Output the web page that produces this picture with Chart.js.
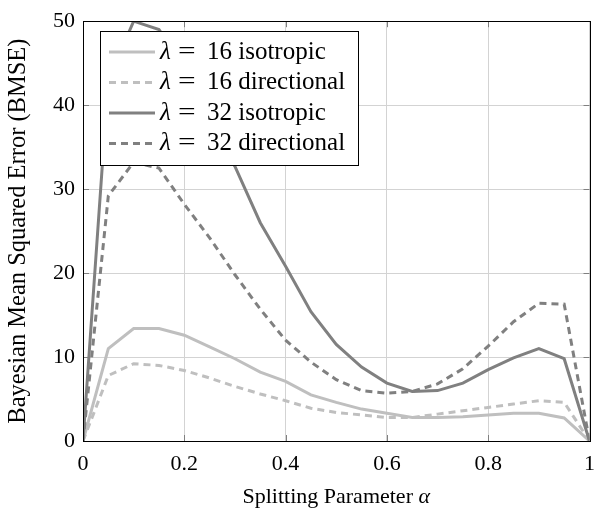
<!DOCTYPE html>
<html>
<head>
<meta charset="utf-8">
<script src="https://cdn.jsdelivr.net/npm/chart.js@4.4.0/dist/chart.umd.min.js"></script>
<style>
  html, body { margin: 0; padding: 0; background: #fff; }
</style>
</head>
<body>
<canvas id="chart" width="605" height="510"></canvas>
<script>
const alpha = [0, 0.05, 0.1, 0.15, 0.2, 0.25, 0.3, 0.35, 0.4, 0.45, 0.5,
               0.55, 0.6, 0.65, 0.7, 0.75, 0.8, 0.85, 0.9, 0.95, 1];

const lam16Iso = [0, 11.0, 13.4, 13.4, 12.6, 11.2, 9.8, 8.2, 7.1, 5.5, 4.6,
                  3.8, 3.3, 2.8, 2.8, 2.9, 3.1, 3.3, 3.3, 2.75, 0];
const lam16Dir = [0, 7.8, 9.2, 9.0, 8.4, 7.5, 6.5, 5.6, 4.8, 3.9, 3.4,
                  3.1, 2.8, 2.8, 3.2, 3.6, 4.0, 4.4, 4.8, 4.6, 0];
const lam32Iso = [0, 43, 50, 49, 44.5, 38.5, 32.7, 26, 20.8, 15.4, 11.5,
                  8.8, 6.9, 5.9, 6.0, 6.9, 8.5, 9.9, 11.0, 9.8, 0];
const lam32Dir = [0, 29.2, 33.2, 32.5, 28.2, 24.2, 19.8, 15.7, 12.0, 9.4, 7.3,
                  6.0, 5.7, 5.9, 6.8, 8.6, 11.3, 14.2, 16.4, 16.3, 0];

const lambdas = [16, 16, 32, 32];
const kinds = ['isotropic', 'directional', 'isotropic', 'directional'];

const xTicks = [0, 0.2, 0.4, 0.6, 0.8, 1];
const yTicks = [0, 10, 20, 30, 40, 50];

const SERIF = '"Liberation Serif", "DejaVu Serif", serif';
const LIGHT = '#bfbfbf';
const DARK = '#808080';

function toPoints(ys) {
  return alpha.map((a, i) => ({ x: a, y: ys[i] }));
}

function series(i, ys, color, dashed, order) {
  return {
    label: 'λ = ' + lambdas[i] + ' ' + kinds[i],
    data: toPoints(ys),
    borderColor: color,
    borderWidth: 3,
    borderDash: dashed ? [7, 5] : [],
    pointRadius: 0,
    tension: 0,
    order: order
  };
}

// frame and inward tick marks, drawn over the curves
const framePlugin = {
  id: 'frame',
  afterDatasetsDraw(chart) {
    const { ctx, chartArea: a, scales } = chart;
    ctx.save();
    ctx.strokeStyle = '#808080';
    ctx.lineWidth = 1;
    const len = 6;
    ctx.beginPath();
    xTicks.forEach(v => {
      const px = Math.round(scales.x.getPixelForValue(v)) + 0.5;
      ctx.moveTo(px, a.bottom); ctx.lineTo(px, a.bottom - len);
      ctx.moveTo(px, a.top); ctx.lineTo(px, a.top + len);
    });
    yTicks.forEach(v => {
      const py = Math.round(scales.y.getPixelForValue(v)) + 0.5;
      ctx.moveTo(a.left, py); ctx.lineTo(a.left + len, py);
      ctx.moveTo(a.right, py); ctx.lineTo(a.right - len, py);
    });
    ctx.stroke();
    ctx.strokeStyle = '#000';
    ctx.lineWidth = 1;
    ctx.strokeRect(Math.round(a.left) + 0.5, Math.round(a.top) + 0.5,
                   Math.round(a.right - a.left), Math.round(a.bottom - a.top));

    // x axis title with italic alpha
    const t1 = 'Splitting Parameter ';
    ctx.fillStyle = '#000';
    ctx.textBaseline = 'middle';
    ctx.font = '22px ' + SERIF;
    const w1 = ctx.measureText(t1).width;
    ctx.font = 'italic 22px ' + SERIF;
    const w2 = ctx.measureText('α').width;
    const cx = (a.left + a.right) / 2;
    let x0 = cx - (w1 + w2) / 2;
    ctx.font = '22px ' + SERIF;
    ctx.textAlign = 'left';
    ctx.fillText(t1, x0, 497);
    ctx.font = 'italic 22px ' + SERIF;
    ctx.fillText('α', x0 + w1, 497);
    ctx.restore();
  }
};

// boxed legend in the upper left of the plot
const legendPlugin = {
  id: 'boxLegend',
  afterDraw(chart) {
    const { ctx } = chart;
    const bx = 100, by = 31, bw = 258, bh = 134;
    ctx.save();
    ctx.fillStyle = '#fff';
    ctx.fillRect(bx, by, bw, bh);
    ctx.strokeStyle = '#000';
    ctx.lineWidth = 1;
    ctx.strokeRect(bx + 0.5, by + 0.5, bw, bh);
    ctx.textBaseline = 'middle';
    ctx.textAlign = 'left';
    chart.data.datasets.forEach((ds, row) => {
      const y = by + 21 + row * 30.5;
      ctx.strokeStyle = ds.borderColor;
      ctx.lineWidth = ds.borderWidth;
      ctx.setLineDash(ds.borderDash);
      ctx.beginPath();
      ctx.moveTo(109, y);
      ctx.lineTo(155, y);
      ctx.stroke();
      ctx.setLineDash([]);
      ctx.fillStyle = '#000';
      ctx.font = 'italic 25px ' + SERIF;
      ctx.fillText('λ', 160, y);
      ctx.font = '25px ' + SERIF;
      // wider equals sign, as in math typesetting
      ctx.save();
      ctx.translate(178, y);
      ctx.scale(1.25, 1);
      ctx.fillText('=', 0, 0);
      ctx.restore();
      ctx.fillText(lambdas[row] + ' ' + kinds[row], 207, y);
    });
    ctx.restore();
  }
};

new Chart(document.getElementById('chart'), {
  type: 'line',
  data: {
    datasets: [
      series(0, lam16Iso, LIGHT, false, 4),
      series(1, lam16Dir, LIGHT, true, 3),
      series(2, lam32Iso, DARK, false, 2),
      series(3, lam32Dir, DARK, true, 1)
    ]
  },
  options: {
    responsive: false,
    animation: false,
    layout: { padding: { top: 17, right: 14, left: 0, bottom: 0 } },
    plugins: {
      legend: { display: false },
      tooltip: { enabled: false }
    },
    scales: {
      x: {
        type: 'linear',
        min: 0,
        max: 1,
        afterBuildTicks(scale) { scale.ticks = xTicks.map(v => ({ value: v })); },
        afterFit(scale) { scale.height = 69; },
        ticks: {
          color: '#000',
          padding: 10,
          maxRotation: 0,
          font: { family: SERIF, size: 22 },
          callback: v => String(v)
        },
        grid: { color: '#d3d3d3', lineWidth: 1, drawTicks: false },
        border: { display: false }
      },
      y: {
        min: 0,
        max: 50,
        afterBuildTicks(scale) { scale.ticks = yTicks.map(v => ({ value: v })); },
        afterFit(scale) { scale.width = 83; },
        ticks: {
          color: '#000',
          padding: 8,
          font: { family: SERIF, size: 22 }
        },
        grid: { color: '#d3d3d3', lineWidth: 1, drawTicks: false },
        border: { display: false },
        title: {
          display: true,
          text: 'Bayesian Mean Squared Error (BMSE)',
          color: '#000',
          font: { family: SERIF, size: 24.5 },
          padding: { top: 4, bottom: 2 }
        }
      }
    }
  },
  plugins: [framePlugin, legendPlugin]
});
</script>
</body>
</html>
